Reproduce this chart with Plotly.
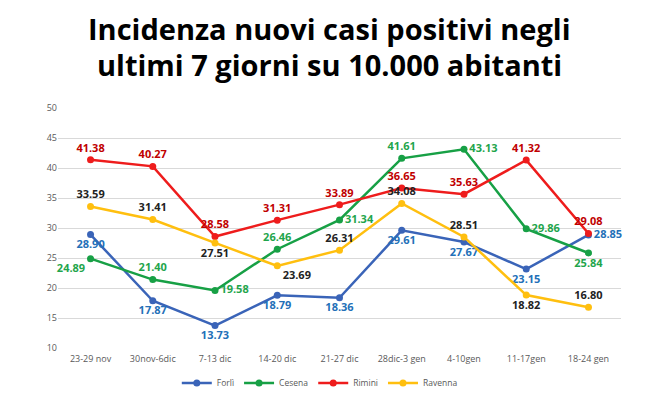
import plotly.graph_objects as go

# settimane
settimane = ["23-29 nov", "30nov-6dic", "7-13 dic", "14-20 dic", "21-27 dic",
             "28dic-3 gen", "4-10gen", "11-17gen", "18-24 gen"]

# incidenza per 10.000 abitanti
forli = [28.90, 17.87, 13.73, 18.79, 18.36, 29.61, 27.67, 23.15, 28.85]
cesena = [24.89, 21.40, 19.58, 26.46, 31.34, 41.61, 43.13, 29.86, 25.84]
rimini = [41.38, 40.27, 28.58, 31.31, 33.89, 36.65, 35.63, 41.32, 29.08]
ravenna = [33.59, 31.41, 27.51, 23.69, 26.31, 34.08, 28.51, 18.82, 16.80]

# posizione delle etichette
pos_forli = ["bottom center"] * 8 + ["middle right"]
pos_cesena = ["bottom left", "top center", "middle right", "top center", "middle right",
              "top center", "middle right", "middle right", "bottom center"]
pos_rimini = ["top center"] * 9
pos_ravenna = ["top center", "top center", "bottom center", "bottom right", "top center",
               "top center", "top center", "bottom center", "top center"]

serie = [
    ("Forlì", forli, "#3a64b8", "#2370b8", pos_forli),
    ("Cesena", cesena, "#17a045", "#1fa54c", pos_cesena),
    ("Rimini", rimini, "#ee1c1c", "#c00000", pos_rimini),
    ("Ravenna", ravenna, "#ffbf0f", "#222222", pos_ravenna),
]

fig = go.Figure()
for nome, valori, colore, col_testo, pos in serie:
    fig.add_trace(go.Scatter(
        x=settimane, y=valori, name=nome,
        mode="lines+markers+text",
        line=dict(color=colore, width=2.5),
        marker=dict(color=colore, size=7),
        text=[f"{v:.2f}" for v in valori],
        textposition=pos,
        textfont=dict(family="Open Sans", size=11, color=col_testo, weight="bold"),
        cliponaxis=False,
    ))

# la pagina html ha 8px di margine del body: figura 652x392
# titolo: centro delle righe in pixel dall'alto della figura
righe_titolo = [("Incidenza nuovi casi positivi negli", 20),
                ("ultimi 7 giorni su 10.000 abitanti", 57)]
altezza_plot = 240
fig.update_layout(
    width=652, height=392,
    margin=dict(l=50, r=39, t=100, b=52, autoexpand=False),
    plot_bgcolor="white", paper_bgcolor="white",
    font=dict(family="Open Sans", color="#595959"),
    showlegend=True,
    legend=dict(orientation="h", x=0.465, xanchor="center", y=-0.085, yanchor="top",
                font=dict(size=8.5, color="#595959"), itemwidth=30),
    annotations=[
        dict(text=f"<b>{t}</b>", x=0.483, y=1 + (100 - py) / altezza_plot,
             xref="paper", yref="paper", showarrow=False, yanchor="middle",
             font=dict(family="Open Sans", size=29, color="black"))
        for t, py in righe_titolo
    ],
)

fig.update_xaxes(showgrid=False, showline=False, tickfont=dict(size=9, color="#595959"),
                 ticks="", automargin=False, ticklabelstandoff=4)
fig.update_yaxes(range=[10, 50], dtick=5, showgrid=True, gridcolor="#d9d9d9", gridwidth=1,
                 zeroline=False, showline=False, tickfont=dict(size=9, color="#595959"),
                 automargin=False)

fig.write_html("out.html")
